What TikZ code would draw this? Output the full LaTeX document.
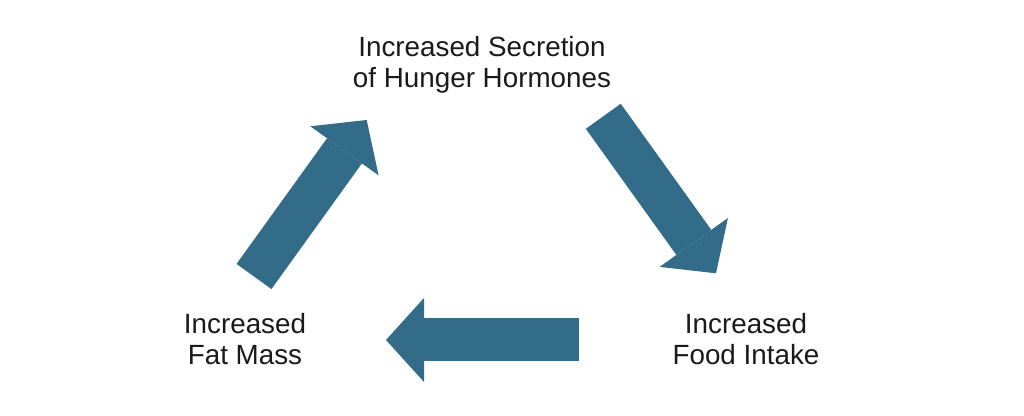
\documentclass[tikz,border=0pt]{standalone}
\usepackage{fontspec}
\setmainfont{Liberation Sans}
\usetikzlibrary{arrows.meta}

\definecolor{loopblue}{RGB}{51,108,136}
\definecolor{labelgray}{RGB}{26,26,26}

\begin{document}
\begin{tikzpicture}[x=0.5pt, y=0.5pt,
		textlabel/.style={align=center, text=labelgray, inner sep=0pt, font=\fontsize{13.9}{15.5}\selectfont},
		looparrow/.style={draw=loopblue, line width=21.5pt, line cap=butt,
			-{Triangle[length=19pt, width=42pt, line width=0pt 0]}}]
		\useasboundingbox (0, 0) rectangle (1024, 416);
		
		\node[textlabel] (hormones) at (482, 350.8) {Increased Secretion\\of Hunger Hormones};
		\node[textlabel] (intake) at (746, 76.5) {Increased\\Food Intake};
		\node[textlabel] (fat) at (245, 76.5) {Increased\\Fat Mass};
		
		\coordinate (fatOut) at (254, 139.5);
		\coordinate (hormonesIn) at (366.7, 296);
		\coordinate (hormonesOut) at (603.3, 299.7);
		\coordinate (intakeIn) at (716, 142.7);
		\coordinate (intakeOut) at (579, 76);
		\coordinate (fatIn) at (386, 76);
		
		\draw[looparrow] (fatOut) -- (hormonesIn);     % Масса -> гормоны
		\draw[looparrow] (hormonesOut) -- (intakeIn);  % Гормоны -> питание
		\draw[looparrow] (intakeOut) -- (fatIn);       % Питание -> масса
	\end{tikzpicture}
\end{document}
